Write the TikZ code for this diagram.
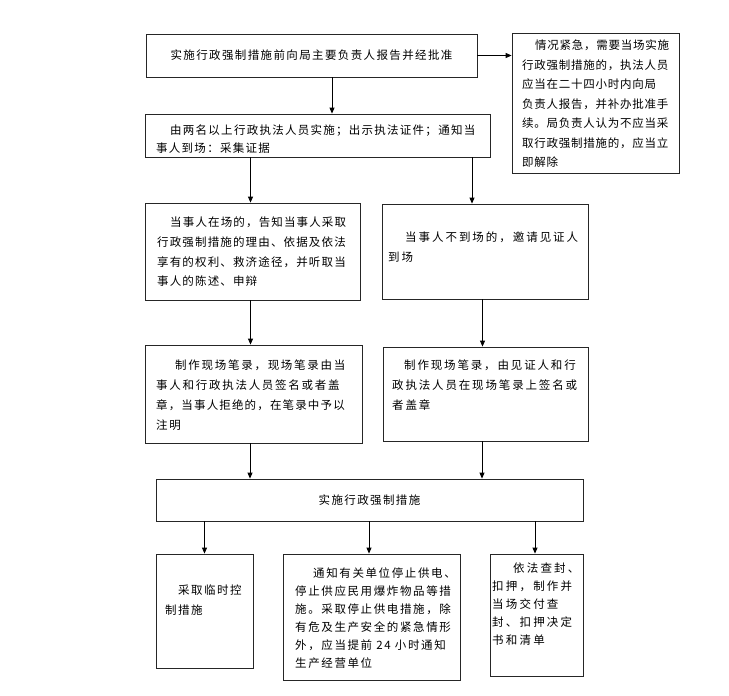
\documentclass[tikz,border=0pt]{standalone}
\usepackage{fontspec}
\newfontfamily\cjk{Noto Sans CJK SC}
\usetikzlibrary{arrows.meta}
\tikzset{
  box/.style={draw=black!85, line width=0.8pt, rectangle, inner sep=0pt},
  txt/.style={anchor=north west, inner sep=0pt, align=left, text=black},
  arr/.style={draw=black, line width=0.8pt, -{Triangle[length=6pt,width=5pt]}},
  cf/.style 2 args={font=\cjk\fontsize{11.5}{#1}\selectfont\addfontfeature{LetterSpace=#2}},
}
\begin{document}
\begin{tikzpicture}[x=1pt,y=-1pt]
\useasboundingbox[fill=white] (0,0) rectangle (729,696);
% boxes
\node[box, minimum width=331pt, minimum height=43pt, cf={19.5}{12}, text=black] (b1) at (311.5,55.5) {实施行政强制措施前向局主要负责人报告并经批准};
\node[box, minimum width=167pt, minimum height=140pt] (b2) at (595.5,103) {};
\node[box, minimum width=345pt, minimum height=43pt] (b3) at (317.5,135.5) {};
\node[box, minimum width=215pt, minimum height=97pt] (b4) at (252.5,251.5) {};
\node[box, minimum width=206pt, minimum height=95pt] (b5) at (485,251.5) {};
\node[box, minimum width=217pt, minimum height=98pt] (b6) at (253.5,394) {};
\node[box, minimum width=205pt, minimum height=94pt] (b7) at (485.5,394) {};
\node[box, minimum width=427pt, minimum height=42pt, cf={19.5}{12}, text=black] (b8) at (369.5,500) {实施行政强制措施};
\node[box, minimum width=97pt, minimum height=114pt] (b9) at (204.5,611) {};
\node[box, minimum width=177pt, minimum height=126pt] (b10) at (371.5,617) {};
\node[box, minimum width=93pt, minimum height=122pt] (b11) at (536.5,615) {};
% texts
\node[txt, cf={19.5}{6.5}] (t2) at (522,38.4) {\rule{0pt}{11pt}\hspace*{13pt}情况紧急，需要当场实施\\行政强制措施的，执法人员\\应当在二十四小时内向局\\负责人报告，并补办批准手\\续。局负责人认为不应当采\\取行政强制措施的，应当立\\即解除};
\node[txt, cf={18}{11}] (t3) at (156,123.4) {\rule{0pt}{11pt}\hspace*{14pt}由两名以上行政执法人员实施；出示执法证件；通知当\\事人到场：采集证据};
\node[txt, cf={19.7}{10}] (t4) at (157,215.4) {\rule{0pt}{11pt}\hspace*{13pt}当事人在场的，告知当事人采取\\行政强制措施的理由、依据及依法\\享有的权利、救济途径，并听取当\\事人的陈述、申辩};
\node[txt, cf={20}{17}] (t5) at (388,230.4) {\rule{0pt}{11pt}\hspace*{17pt}当事人不到场的，邀请见证人\\到场};
\node[txt, cf={20}{15}] (t6) at (156,358.4) {\rule{0pt}{11pt}\hspace*{19pt}制作现场笔录，现场笔录由当\\事人和行政执法人员签名或者盖\\\addfontfeature{LetterSpace=10}章，当事人拒绝的，在笔录中予以\\注明};
\node[txt, cf={20}{16}] (t7) at (392,358.4) {\rule{0pt}{11pt}\hspace*{12pt}制作现场笔录，由见证人和行\\政执法人员在现场笔录上签名或\\者盖章};
\node[txt, cf={20}{13}] (t9) at (165,583.4) {\rule{0pt}{11pt}\hspace*{13pt}采取临时控\\制措施};
\node[txt, cf={18}{14}] (t10) at (295,566.4) {\rule{0pt}{11pt}\hspace*{18pt}通知有关单位停止供电、\\停止供应民用爆炸物品等措\\施。采取停止供电措施，除\\有危及生产安全的紧急情形\\外，应当提前 24 小时通知\\生产经营单位};
\node[txt, cf={18}{19}] (t11) at (492,561.4) {\rule{0pt}{11pt}\hspace*{21pt}依法查封、\\扣押，制作并\\当场交付查\\封、扣押决定\\书和清单};
% connectors
\draw[arr] (b1.east) -- (b1.east -| b2.west);
\draw[arr] ([xshift=20.5pt]b1.south) -- ([xshift=20.5pt]b1.south |- b3.north);
\draw[arr] ([xshift=-2pt]b4.north |- b3.south) -- ([xshift=-2pt]b4.north);
\draw[arr] ([xshift=-13pt]b5.north |- b3.south) -- ([xshift=-13pt]b5.north);
\draw[arr] ([xshift=-3pt]b6.north |- b4.south) -- ([xshift=-3pt]b6.north);
\draw[arr] ([xshift=-3pt]b7.north |- b5.south) -- ([xshift=-3pt]b7.north);
\draw[arr] ([xshift=-3.5pt]b6.south) -- ([xshift=-3.5pt]b6.south |- b8.north);
\draw[arr] ([xshift=-3.5pt]b7.south) -- ([xshift=-3.5pt]b7.south |- b8.north);
\draw[arr] (b9.north |- b8.south) -- (b9.north);
\draw[arr] ([xshift=-2.5pt]b10.north |- b8.south) -- ([xshift=-2.5pt]b10.north);
\draw[arr] ([xshift=-1.5pt]b11.north |- b8.south) -- ([xshift=-1.5pt]b11.north);
\end{tikzpicture}
\end{document}
